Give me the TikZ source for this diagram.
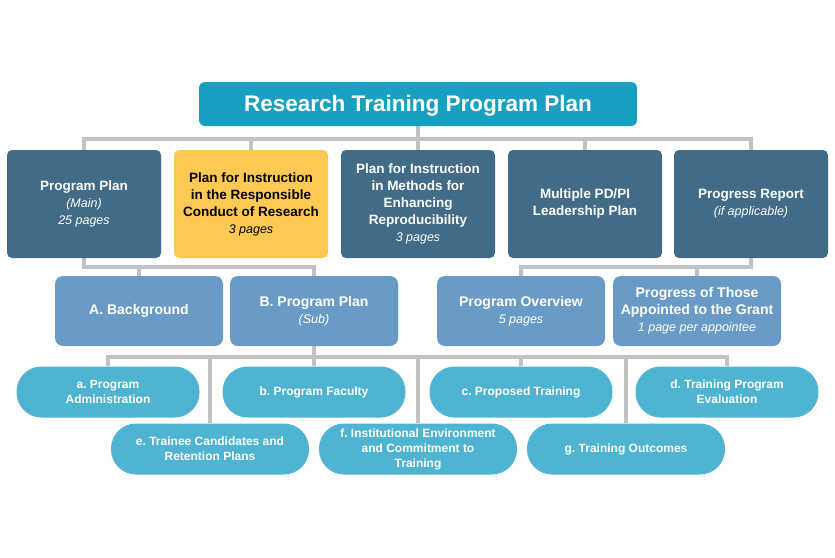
\documentclass[tikz,border=0pt]{standalone}
\usepackage{fontspec}
\setmainfont{Liberation Sans}
\usepackage{tikz}
\usetikzlibrary{positioning,calc,backgrounds}
\definecolor{titleblue}{HTML}{18A0C3}
\definecolor{planblue}{HTML}{426B87}
\definecolor{planyellow}{HTML}{FDC953}
\definecolor{sectblue}{HTML}{6A9BC6}
\definecolor{itemblue}{HTML}{4EB4D1}
\definecolor{connline}{HTML}{C2C2C2}
\newcommand{\pagenote}[1]{{\mdseries\itshape\fontsize{12.5}{15}\selectfont #1}}
\frenchspacing

\begin{document}
\begin{tikzpicture}[x=1pt,y=-1pt]
\tikzset{box/.style={draw=none,align=center,inner sep=0pt,text=white,
  font=\bfseries\fontsize{13.5}{17}\selectfont}}
\tikzset{titlebox/.style={box,fill=titleblue,rounded corners=6pt,
  minimum width=438,minimum height=44,font=\bfseries\fontsize{22.5}{26}\selectfont}}
\tikzset{planbox/.style={box,fill=planblue,rounded corners=5pt,
  minimum width=154,minimum height=108}}
\tikzset{sectbox/.style={box,fill=sectblue,rounded corners=8pt,
  minimum width=168,minimum height=70,font=\bfseries\fontsize{14}{17}\selectfont}}
\tikzset{itembox/.style={box,fill=itemblue,rounded corners=25pt,
  minimum width=183,minimum height=51,font=\bfseries\fontsize{12}{15}\selectfont}}
\tikzset{conn/.style={draw=connline,line width=4pt}}
\useasboundingbox (0,0) rectangle (835,557);
% title
\node[titlebox,text depth=2pt] (title) at (418,104) {Research Training Program Plan};
% first row
\node[planbox] (pp) at (84,204) {Program Plan\\\pagenote{(Main)}\\\pagenote{25 pages}};
\node[planbox,fill=planyellow,text=black] (rcr) at (251,204)
  {Plan for Instruction\\in the Responsible\\Conduct of Research\\\pagenote{3 pages}};
\node[planbox] (mer) at (418,204)
  {Plan for Instruction\\in Methods for\\Enhancing\\Reproducibility\\\pagenote{3 pages}};
\node[planbox] (mpi) at (585,204) {Multiple PD/PI\\Leadership Plan};
\node[planbox] (prr) at (751,204) {Progress Report\\\pagenote{(if applicable)}};
% second row
\node[sectbox] (bg) at (139,311) {A. Background};
\node[sectbox] (psub) at (314,311) {B. Program Plan\\\pagenote{(Sub)}};
\node[sectbox] (ovw) at (521,311) {Program Overview\\\pagenote{5 pages}};
\node[sectbox] (app) at (697,311)
  {Progress of Those\\Appointed to the Grant\\\pagenote{1 page per appointee}};
% items
\node[itembox] (ia) at (108,392) {a. Program\\Administration};
\node[itembox] (ib) at (314,392) {b. Program Faculty};
\node[itembox] (ic) at (521,392) {c. Proposed Training};
\node[itembox] (id) at (727,392) {d. Training Program\\Evaluation};
\node[itembox,minimum width=198] (ie) at (210,449) {e. Trainee Candidates and\\Retention Plans};
\node[itembox,minimum width=198] (if) at (418,449)
  {f. Institutional Environment\\and Commitment to\\Training};
\node[itembox,minimum width=198] (ig) at (626,449) {g. Training Outcomes};
% connectors
\begin{scope}[on background layer]
\coordinate (j1) at ($(title.south)+(0,13)$);
\foreach \n in {pp,rcr,mer,mpi,prr} \draw[conn] (title.south) -- (j1) -| (\n.north);
\coordinate (j2) at ($(pp.south)+(0,9)$);
\foreach \n in {bg,psub} \draw[conn] (pp.south) -- (j2) -| (\n.north);
\coordinate (j3) at ($(prr.south)+(0,9)$);
\foreach \n in {ovw,app} \draw[conn] (prr.south) -- (j3) -| (\n.north);
\coordinate (j4) at ($(psub.south)+(0,11)$);
\foreach \n in {ia,ib,ic,id,ie,if,ig} \draw[conn] (psub.south) -- (j4) -| (\n.north);
\end{scope}
\end{tikzpicture}
\end{document}
